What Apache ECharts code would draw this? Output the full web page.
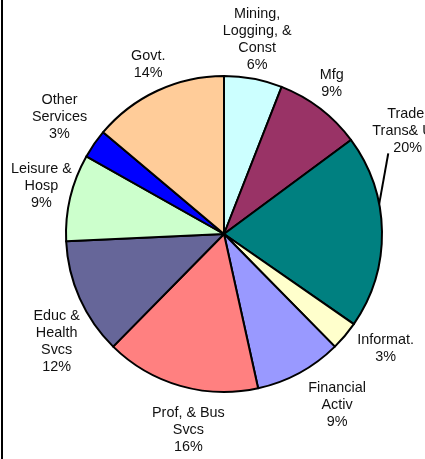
<!DOCTYPE html>
<html>
<head>
<meta charset="utf-8">
<script src="https://cdn.jsdelivr.net/npm/echarts@6/dist/echarts.min.js"></script>
<style>
  html, body { margin: 0; padding: 0; background: #ffffff; }
  #chart { width: 425px; height: 459px; }
</style>
</head>
<body>
<div id="chart"></div>
<script>
// Employment by sector, share of total (%)
const sectors = [
  'Mining,\nLogging, &\nConst',
  'Mfg',
  'Trade,\nTrans& Util',
  'Informat.',
  'Financial\nActiv',
  'Prof, & Bus\nSvcs',
  'Educ &\nHealth\nSvcs',
  'Leisure &\nHosp',
  'Other\nServices',
  'Govt.'
];
const shares = [6, 9, 20, 3, 9, 16, 12, 9, 3, 14];
const sliceColors = [
  '#CCFFFF', '#993366', '#008080', '#FFFFCC', '#9999FF',
  '#FF8080', '#666699', '#CCFFCC', '#0000FF', '#FFCC99'
];

// Pie geometry (px)
const CX = 224, CY = 234, R = 158;
const LABEL_GAP = 5;
// Fine placement of each label block relative to its default spot
const labelNudge = [
  [-4.5, 4.5], [-4, -4.5], [-15, -100], [12, -11.5], [18, -4],
  [19, 6], [13.5, 27], [10.5, -2], [0, -2.5], [2.5, -1]
];
const LEADER_INDEX = 2;       // Trade label gets a leader line
const LEADER_ANGLE_SHIFT = -10; // degrees from slice mid-angle

const total = shares.reduce((a, b) => a + b, 0);
function midAngle(i) {
  let acc = 0;
  for (let k = 0; k < i; k++) acc += shares[k];
  return (acc + shares[i] / 2) / total * 360; // clockwise from 12 o'clock
}

const chart = echarts.init(document.getElementById('chart'), null, { renderer: 'canvas' });

chart.setOption({
  animation: false,
  backgroundColor: '#ffffff',
  graphic: [{
    type: 'line',
    shape: { x1: 2, y1: 0, x2: 2, y2: 459 },
    style: { stroke: '#000000', lineWidth: 2 },
    silent: true
  }],
  series: [{
    type: 'pie',
    center: [CX, CY],
    radius: R,
    startAngle: 90,
    clockwise: true,
    avoidLabelOverlap: false,
    silent: true,
    itemStyle: { borderColor: '#000000', borderWidth: 2 },
    label: {
      show: true,
      position: 'outside',
      overflow: 'none',
      formatter: '{b}\n{c}%',
      fontFamily: '"Liberation Sans", Arial, sans-serif',
      fontSize: 14.4,
      lineHeight: 17,
      color: '#111111',
      align: 'center'
    },
    labelLine: {
      show: true,
      length: 10,
      length2: 10,
      smooth: false,
      lineStyle: { color: 'rgba(0,0,0,0)', width: 2 }
    },
    labelLayout: function (p) {
      const i = p.dataIndex;
      const a = midAngle(i) * Math.PI / 180;
      const ux = Math.sin(a), uy = -Math.cos(a);
      const w = p.labelRect.width / 2, h = p.labelRect.height / 2;
      const d = R + LABEL_GAP + w * Math.abs(ux) + h * Math.abs(uy);
      const x = CX + ux * d + labelNudge[i][0];
      const y = CY + uy * d + labelNudge[i][1];
      const out = { x: x, y: y, align: 'center', verticalAlign: 'middle' };
      if (i === LEADER_INDEX) {
        const la = (midAngle(i) + LEADER_ANGLE_SHIFT) * Math.PI / 180;
        out.labelLinePoints = [
          [CX + R * Math.sin(la), CY - R * Math.cos(la)],
          [x - w * 0.55, y + h - 3],
          [x - w * 0.55, y + h - 3]
        ];
      }
      return out;
    },
    data: sectors.map((name, i) => ({
      name: name,
      value: shares[i],
      itemStyle: { color: sliceColors[i] },
      labelLine: i === LEADER_INDEX ? { lineStyle: { color: '#000000', width: 2 } } : undefined
    }))
  }]
});
</script>
</body>
</html>
